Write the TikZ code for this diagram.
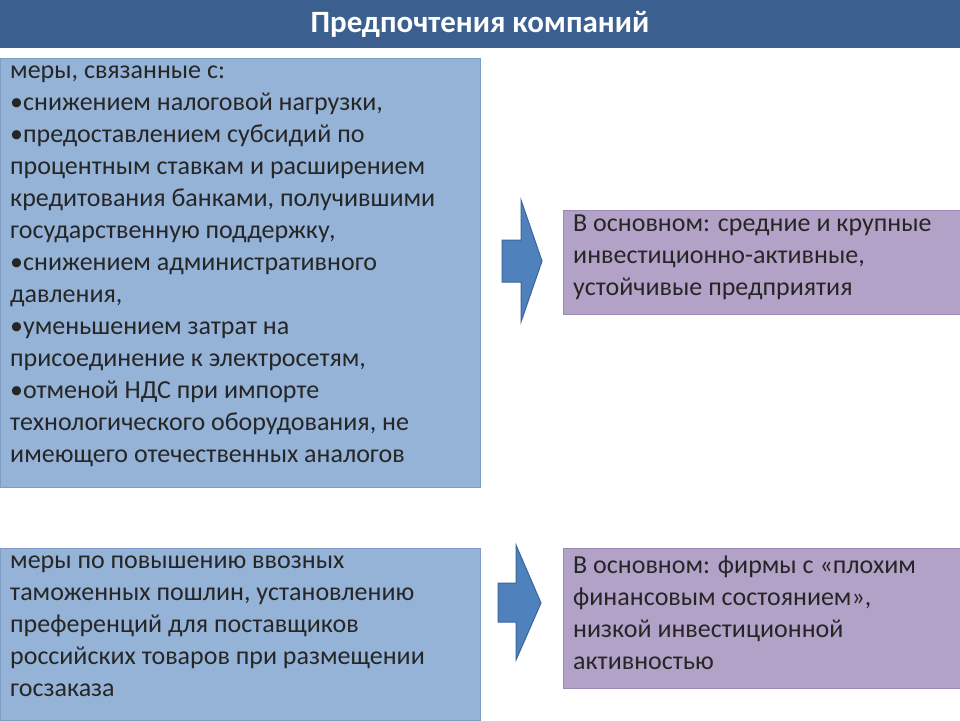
\documentclass[tikz,border=0pt]{standalone}
\usepackage{fontspec}
\setmainfont{Carlito}
\definecolor{hdr}{HTML}{3B5F8E}
\definecolor{lb}{HTML}{95B3D7}
\definecolor{lbd}{HTML}{7F9DC4}
\definecolor{lav}{HTML}{B3A2C7}
\definecolor{lavd}{HTML}{9C89B5}
\definecolor{arr}{HTML}{4F81BD}
\definecolor{arrd}{HTML}{3A6699}
\tikzset{
 txt/.style={font=\fontsize{26}{32}\selectfont, align=left, anchor=north west, inner sep=0pt, text=black!85},
 arrowshape/.style={fill=arr, draw=arrd, line width=1pt}
}
\begin{document}
\begin{tikzpicture}[x=1pt,y=-1pt]
\useasboundingbox (0,0) rectangle (960,720);
\fill[white] (0,0) rectangle (960,720);
\fill[hdr] (0,0) rectangle (960,48);
\node (title) at (480,24) {\color{white}\bfseries\fontsize{31}{36}\selectfont Предпочтения компаний};
\node[fill=lb, draw=lbd, minimum width=480pt, minimum height=429pt, anchor=north west, inner sep=0pt] (b1) at (0,58) {};
\node[txt] (t1) at (10,66) {меры, связанные с:\\
•снижением налоговой нагрузки,\\
•предоставлением субсидий по\\
процентным ставкам и расширением\\
кредитования банками, получившими\\
государственную поддержку,\\
•снижением административного\\
давления,\\
•уменьшением затрат на\\
присоединение к электросетям,\\
•отменой НДС при импорте\\
технологического оборудования, не\\
имеющего отечественных аналогов};
\node[fill=lav, draw=lavd, minimum width=397pt, minimum height=104pt, anchor=north west, inner sep=0pt] (r1) at (563,210) {};
\node[txt] (rt1) at (573,215) {В основном: средние и крупные\\
инвестиционно-активные,\\
устойчивые предприятия};
\node[fill=lb, draw=lbd, minimum width=480pt, minimum height=172pt, anchor=north west, inner sep=0pt] (b2) at (0,548) {};
\node[txt] (t2) at (10,556) {меры по повышению ввозных\\
таможенных пошлин, установлению\\
преференций для поставщиков\\
российских товаров при размещении\\
госзаказа};
\node[fill=lav, draw=lavd, minimum width=397pt, minimum height=140pt, anchor=north west, inner sep=0pt] (r2) at (563,548) {};
\node[txt] (rt2) at (573,556) {В основном: фирмы с «плохим\\
финансовым состоянием»,\\
низкой инвестиционной\\
активностью};
\draw[arrowshape] (502,240) -- (521,240) -- (521,200) -- (542,261) -- (521,322) -- (521,282) -- (502,282) -- cycle;
\draw[arrowshape] (498,583) -- (516,583) -- (516,545) -- (541,603) -- (516,660) -- (516,622) -- (498,622) -- cycle;
\end{tikzpicture}
\end{document}
